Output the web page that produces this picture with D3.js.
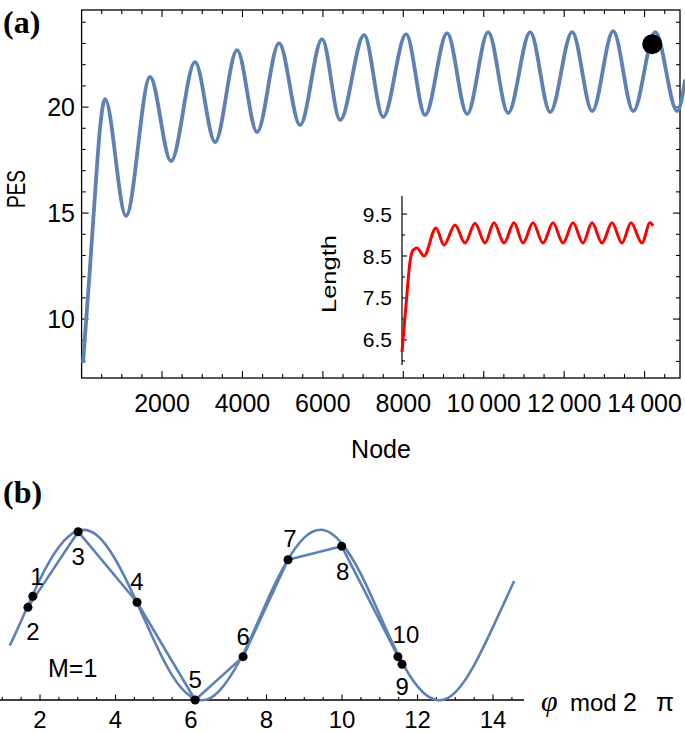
<!DOCTYPE html>
<html><head><meta charset="utf-8">
<script src="https://cdn.jsdelivr.net/npm/d3@7"></script>
<style>body{margin:0;background:#fff}svg{display:block}text{font-family:"Liberation Sans",Arial,sans-serif;fill:#000}</style>
</head><body>
<script>
// ---------- DATA ----------
// Panel (a): PES vs Node
const pesNode  = [35, 196, 358, 458, 582, 1105, 1702, 2224, 2821, 3319, 3866, 4363, 4910, 5433, 5980, 6428, 7025, 7498, 8070, 8542, 9089, 9587, 10110, 10607, 11155, 11652, 12199, 12697, 13219, 13717, 14264, 14811, 15010];
const pesValue = [7.92, 12.08, 16.56, 19.0, 20.38, 14.87, 21.42, 17.45, 22.12, 18.35, 22.69, 18.82, 23.02, 19.15, 23.21, 19.39, 23.40, 19.53, 23.44, 19.62, 23.49, 19.67, 23.54, 19.72, 23.54, 19.76, 23.54, 19.81, 23.58, 19.81, 23.54, 19.81, 21.3];
const markerNode = [14190];
const markerPES  = [22.97];
// Inset: Length vs Node
const lenNode  = [0, 225, 449, 617, 842, 1235, 1908, 2357, 2975, 3536, 4097, 4659, 5164, 5725, 6286, 6791, 7353, 7914, 8475, 9037, 9598, 10159, 10664, 11226, 11787, 12348, 12853, 13470, 13919, 14088];
const lenValue = [6.21, 7.33, 8.36, 8.64, 8.69, 8.50, 9.17, 8.76, 9.24, 8.81, 9.28, 8.81, 9.29, 8.81, 9.29, 8.81, 9.29, 8.81, 9.29, 8.81, 9.29, 8.81, 9.29, 8.81, 9.29, 8.81, 9.29, 8.81, 9.29, 9.22];
const xTickValues = [2000, 4000, 6000, 8000, 10000, 12000, 14000];
const xTickLabels = ["2000", "4000", "6000", "8000", "10\u2009000", "12\u2009000", "14\u2009000"];
const yTickValues = [10, 15, 20];
const yTickLabels = ["10", "15", "20"];
const insetTickValues = [6.5, 7.5, 8.5, 9.5];
const insetTickLabels = ["6.5", "7.5", "8.5", "9.5"];
// Panel (b): curve vs phi mod 2pi
const phiX = [1.2, 1.5, 2.0, 2.5, 3.0, 3.5, 4.0, 4.5, 5.0, 5.5, 6.0, 6.5, 7.0, 7.5, 8.0, 8.5, 9.0, 9.5, 10.0, 10.5, 11.0, 11.5, 12.0, 12.5, 13.0, 13.5, 14.0, 14.56];
const phiY = [0.64, 0.93, 1.42, 1.80, 1.99, 1.94, 1.65, 1.21, 0.72, 0.29, 0.04, 0.02, 0.25, 0.65, 1.15, 1.60, 1.91, 2.00, 1.84, 1.48, 1.00, 0.52, 0.16, 0.00, 0.09, 0.41, 0.86, 1.40];
const ptNames = ["1", "2", "3", "4", "5", "6", "7", "8", "9", "10"];
const ptX = [1.81, 1.68, 3.01, 4.57, 6.11, 7.38, 8.57, 9.99, 11.59, 11.48];
const ptY = [1.22, 1.09, 1.98, 1.15, 0.00, 0.51, 1.65, 1.81, 0.42, 0.51];
const bTickValues = [2, 4, 6, 8, 10, 12, 14];
const bTickLabels = ["2", "4", "6", "8", "10", "12", "14"];

// ---------- LAYOUT / STYLE ----------
const W = 685, H = 734;
const BLUE = "#5E81B5", RED = "#FF0000";
const labelOffsets = [[4,-11],[5,33],[0,33],[0,-12],[0,-12],[0,-12],[2,-13],[1,34],[0,31],[8,-14]];

const svg = d3.select("body").append("svg").attr("width", W).attr("height", H);

// ===== Panel (a) =====
const ax = d3.scaleLinear().domain([0, 14880]).range([81.6, 680]);
const ay = d3.scaleLinear().domain([7.22, 24.58]).range([378, 10]);
const gA = svg.append("g");

gA.append("rect").attr("x", ax.range()[0]).attr("y", ay.range()[1])
  .attr("width", ax.range()[1] - ax.range()[0]).attr("height", ay.range()[0] - ay.range()[1])
  .attr("fill", "none").attr("stroke", "#000").attr("stroke-width", 1.3);

const xMinor = d3.range(500, 14880, 500);
const yMinor = d3.range(8, 24.6, 1);
const tickG = gA.append("g").attr("stroke", "#000").attr("stroke-width", 1.1);
xMinor.forEach(v => {
  const major = v % 2000 === 0; const L = major ? 7 : 4; const x = ax(v);
  tickG.append("line").attr("x1", x).attr("x2", x).attr("y1", ay.range()[0]).attr("y2", ay.range()[0] - L);
  tickG.append("line").attr("x1", x).attr("x2", x).attr("y1", ay.range()[1]).attr("y2", ay.range()[1] + L);
});
yMinor.forEach(v => {
  const major = v % 5 === 0; const L = major ? 7 : 4; const y = ay(v);
  tickG.append("line").attr("x1", ax.range()[0]).attr("x2", ax.range()[0] + L).attr("y1", y).attr("y2", y);
  tickG.append("line").attr("x1", ax.range()[1]).attr("x2", ax.range()[1] - L).attr("y1", y).attr("y2", y);
});
xTickValues.forEach((v, i) => {
  gA.append("text").attr("x", ax(v)).attr("y", 412).attr("text-anchor", "middle")
    .attr("font-size", 25).text(xTickLabels[i]);
});
yTickValues.forEach((v, i) => {
  gA.append("text").attr("x", 75).attr("y", ay(v) + 9).attr("text-anchor", "end")
    .attr("font-size", 25).text(yTickLabels[i]);
});
gA.append("text").attr("x", 381).attr("y", 458).attr("text-anchor", "middle").attr("font-size", 25).text("Node");
gA.append("text").attr("transform", "translate(25,189) rotate(-90)").attr("text-anchor", "middle")
  .attr("font-size", 25).attr("textLength", 38).attr("lengthAdjust", "spacingAndGlyphs").text("PES");

const pesData = pesNode.map((n, i) => [n, pesValue[i]]);
gA.append("path").datum(pesData)
  .attr("d", d3.line().x(d => ax(d[0])).y(d => ay(d[1])).curve(d3.curveMonotoneX))
  .attr("fill", "none").attr("stroke", BLUE).attr("stroke-width", 3.8).attr("stroke-linejoin", "round");

gA.selectAll("circle.mk").data(markerNode).join("circle").attr("class", "mk")
  .attr("cx", (d, i) => ax(d)).attr("cy", (d, i) => ay(markerPES[i])).attr("r", 10).attr("fill", "#000");

// Inset
const ix = d3.scaleLinear().domain([0, 14200]).range([402, 655]);
const iy = d3.scaleLinear().domain([5.64, 9.93]).range([376, 196]);
const gI = svg.append("g");
gI.append("line").attr("x1", ix(0)).attr("x2", ix(0)).attr("y1", iy(9.93)).attr("y2", iy(5.9))
  .attr("stroke", "#000").attr("stroke-width", 1.2);
d3.range(6, 9.9, 0.5).forEach(v => {
  const major = Math.abs((v - 0.5) % 1) < 1e-6; const L = major ? 5 : 3;
  gI.append("line").attr("x1", ix(0)).attr("x2", ix(0) + L).attr("y1", iy(v)).attr("y2", iy(v))
    .attr("stroke", "#000").attr("stroke-width", 1.1);
});
insetTickValues.forEach((v, i) => {
  gI.append("text").attr("x", 392).attr("y", iy(v) + 7.5).attr("text-anchor", "end")
    .attr("font-size", 21).text(insetTickLabels[i]);
});
gI.append("text").attr("transform", "translate(336,274) rotate(-90)").attr("text-anchor", "middle")
  .attr("font-size", 21).attr("textLength", 78).attr("lengthAdjust", "spacingAndGlyphs").text("Length");
const lenData = lenNode.map((n, i) => [n, lenValue[i]]);
gI.append("path").datum(lenData)
  .attr("d", d3.line().x(d => ix(d[0])).y(d => iy(d[1])).curve(d3.curveMonotoneX))
  .attr("fill", "none").attr("stroke", RED).attr("stroke-width", 3).attr("stroke-linejoin", "round");

// panel labels
svg.append("text").attr("x", 3).attr("y", 33)
  .attr("font-weight", "bold").attr("font-size", 32).style("font-family", "'Liberation Serif',serif").text("(a)");
svg.append("text").attr("x", 3).attr("y", 503)
  .attr("font-weight", "bold").attr("font-size", 32).style("font-family", "'Liberation Serif',serif").text("(b)");

// ===== Panel (b) =====
const bx = d3.scaleLinear().domain([0.94, 14.82]).range([0, 524]);
const by = d3.scaleLinear().domain([0, 2]).range([700, 530]);
const gB = svg.append("g");
gB.append("line").attr("x1", bx.range()[0]).attr("x2", bx.range()[1]).attr("y1", by(0)).attr("y2", by(0))
  .attr("stroke", "#000").attr("stroke-width", 1.3);
d3.range(1, 14.6, 0.5).forEach(v => {
  const major = v % 2 === 0; const L = major ? 5.5 : 3;
  gB.append("line").attr("x1", bx(v)).attr("x2", bx(v)).attr("y1", by(0)).attr("y2", by(0) - L)
    .attr("stroke", "#000").attr("stroke-width", 1.1);
});
bTickValues.forEach((v, i) => {
  gB.append("text").attr("x", bx(v)).attr("y", 728).attr("text-anchor", "middle").attr("font-size", 24).text(bTickLabels[i]);
});
// axis label: phi mod 2 pi
gB.append("text").attr("x", 541).attr("y", 711).attr("font-size", 30).attr("font-style", "italic")
  .style("font-family", "'Liberation Serif',serif").text("\u03C6");
gB.append("text").attr("x", 570).attr("y", 711).attr("font-size", 24).text("mod");
gB.append("text").attr("x", 623).attr("y", 711).attr("font-size", 25).text("2");
gB.append("text").attr("x", 656).attr("y", 711).attr("font-size", 26).text("\u03C0");

const phiData = phiX.map((x, i) => [x, phiY[i]]);
gB.append("path").datum(phiData)
  .attr("d", d3.line().x(d => bx(d[0])).y(d => by(d[1])).curve(d3.curveNatural))
  .attr("fill", "none").attr("stroke", BLUE).attr("stroke-width", 2.6);
const ptData = ptX.map((x, i) => [x, ptY[i]]);
gB.append("path").datum(ptData)
  .attr("d", d3.line().x(d => bx(d[0])).y(d => by(d[1])))
  .attr("fill", "none").attr("stroke", BLUE).attr("stroke-width", 2.6).attr("stroke-linejoin", "round");
gB.selectAll("circle.pt").data(ptData).join("circle").attr("class", "pt")
  .attr("cx", d => bx(d[0])).attr("cy", d => by(d[1])).attr("r", 4.5).attr("fill", "#000");
gB.selectAll("text.pl").data(ptData).join("text").attr("class", "pl")
  .attr("x", (d, i) => bx(d[0]) + labelOffsets[i][0]).attr("y", (d, i) => by(d[1]) + labelOffsets[i][1])
  .attr("text-anchor", "middle").attr("font-size", 24).text((d, i) => ptNames[i]);
gB.append("text").attr("x", 48).attr("y", 677).attr("font-size", 25).text("M=1");
</script>
</body></html>
